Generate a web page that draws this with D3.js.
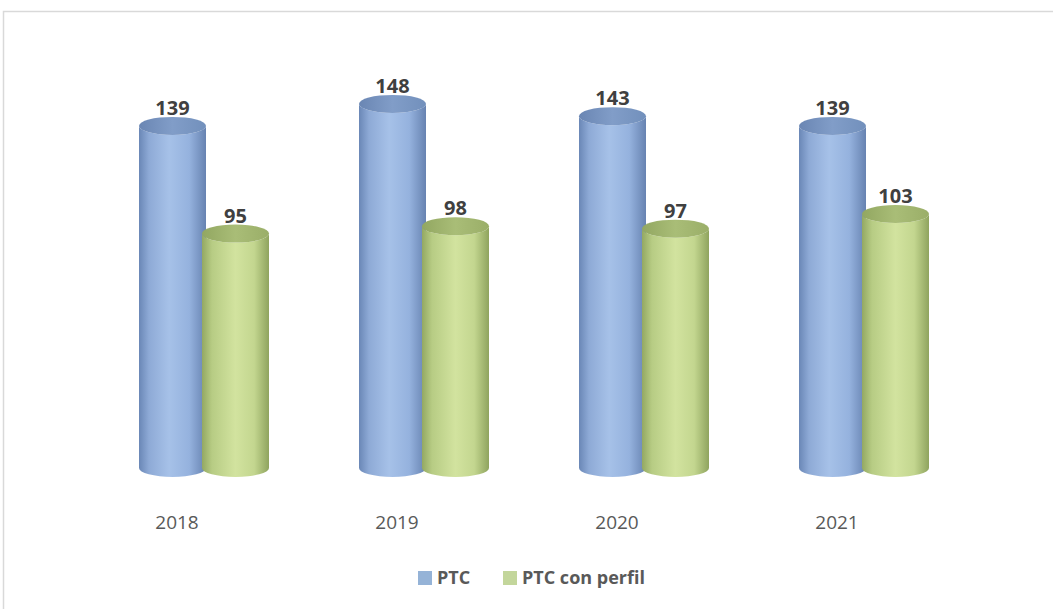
<!DOCTYPE html>
<html lang="es"><head>
<meta charset="utf-8">
<title>PTC</title>
<script src="https://cdn.jsdelivr.net/npm/d3@7"></script>
<style>
  body { margin: 0; background: #fff; }
  text { font-family: "Open Sans", "Liberation Sans", sans-serif; }
</style>
</head>
<body>
<svg width="1053" height="609"></svg>
<script>
var years = ["2018", "2019", "2020", "2021"];
var ptc = [139, 148, 143, 139];
var ptcPerfil = [95, 98, 97, 103];
var seriesNames = ["PTC", "PTC con perfil"];

var svg = d3.select("svg");

// chart frame
svg.append("rect")
  .attr("x", 3.5).attr("y", 11.5)
  .attr("width", 1060).attr("height", 610)
  .attr("fill", "#fff")
  .attr("stroke", "#d9d9d9").attr("stroke-width", 1.5);

var x = d3.scaleBand().domain(years).range([94, 974]).padding(0);
var y = d3.scaleLinear().domain([0, 150]).range([466, 99]);

var barW = 67, ry = 9;

var defs = svg.append("defs");
function grad(id, stops) {
  var g = defs.append("linearGradient").attr("id", id)
    .attr("x1", "0%").attr("x2", "100%").attr("y1", "0%").attr("y2", "0%");
  stops.forEach(function(s) {
    g.append("stop").attr("offset", s[0]).attr("stop-color", s[1]);
  });
}
grad("gBlue", [["0%", "#6a87b6"], ["15%", "#8eaad6"], ["45%", "#a6c1e8"], ["75%", "#95b2de"], ["100%", "#6783b1"]]);
grad("gGreen", [["0%", "#93a862"], ["15%", "#b7cc84"], ["50%", "#d2e39f"], ["78%", "#c3d68f"], ["100%", "#8fa45e"]]);
grad("gBlueTop", [["0%", "#6a86b3"], ["50%", "#819dc8"], ["100%", "#7290bc"]]);
grad("gGreenTop", [["0%", "#92a761"], ["50%", "#a9bd77"], ["100%", "#9aae68"]]);

var series = [
  { name: seriesNames[0], values: ptc, off: -65, side: "gBlue", top: "gBlueTop", sw: "#95b3d7" },
  { name: seriesNames[1], values: ptcPerfil, off: -2, side: "gGreen", top: "gGreenTop", sw: "#c3d69b" }
];

function cylPath(x0, yTop, yBase) {
  var rx = barW / 2;
  return "M" + x0 + "," + yTop +
    " L" + x0 + "," + yBase +
    " A" + rx + "," + ry + " 0 0 0 " + (x0 + barW) + "," + yBase +
    " L" + (x0 + barW) + "," + yTop +
    " A" + rx + "," + ry + " 0 0 1 " + x0 + "," + yTop + " Z";
}

series.forEach(function(s) {
  var g = svg.append("g");
  var data = years.map(function(yr, i) { return { year: yr, v: s.values[i] }; });
  var cx = function(d) { return x(d.year) + x.bandwidth() / 2 + s.off; };

  g.selectAll("path.side").data(data).enter().append("path")
    .attr("class", "side")
    .attr("d", function(d) { return cylPath(cx(d), y(d.v), y(0) + 2); })
    .attr("fill", "url(#" + s.side + ")");

  g.selectAll("ellipse.top").data(data).enter().append("ellipse")
    .attr("class", "top")
    .attr("cx", function(d) { return cx(d) + barW / 2; })
    .attr("cy", function(d) { return y(d.v); })
    .attr("rx", barW / 2).attr("ry", ry)
    .attr("fill", "url(#" + s.top + ")");

  g.selectAll("text.val").data(data).enter().append("text")
    .attr("class", "val")
    .attr("x", function(d) { return cx(d) + barW / 2; })
    .attr("y", function(d) { return y(d.v) - 11; })
    .attr("text-anchor", "middle")
    .attr("font-size", "20px").attr("font-weight", "bold")
    .attr("fill", "#404040")
    .text(function(d) { return d.v; });
});

// year labels
svg.selectAll("text.year").data(years).enter().append("text")
  .attr("class", "year")
  .attr("x", function(d) { return x(d) + x.bandwidth() / 2 - 27; })
  .attr("y", 529)
  .attr("text-anchor", "middle")
  .attr("font-size", "19px")
  .attr("fill", "#595959")
  .text(function(d) { return d; });

// legend
var legX = [418, 503];
series.forEach(function(s, i) {
  svg.append("rect")
    .attr("x", legX[i]).attr("y", 571)
    .attr("width", 14).attr("height", 14)
    .attr("fill", s.sw);
  svg.append("text")
    .attr("x", legX[i] + 19).attr("y", 584)
    .attr("font-size", "18px").attr("font-weight", "bold")
    .attr("fill", "#595959")
    .text(s.name);
});
</script>
</body>
</html>
